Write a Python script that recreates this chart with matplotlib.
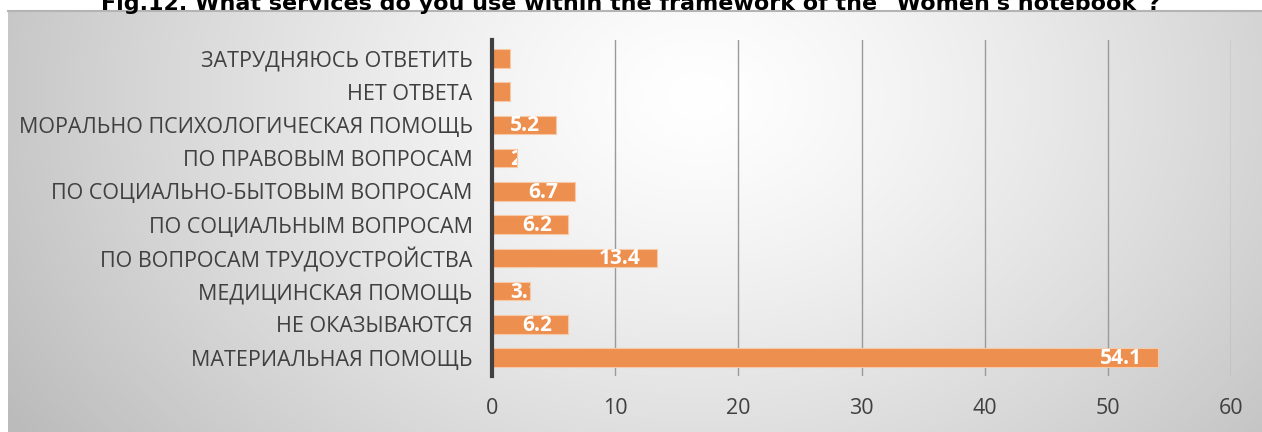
import numpy as np
import matplotlib.pyplot as plt
from matplotlib.transforms import Bbox, TransformedBbox

categories = [
    "МАТЕРИАЛЬНАЯ ПОМОЩЬ",
    "НЕ ОКАЗЫВАЮТСЯ",
    "МЕДИЦИНСКАЯ ПОМОЩЬ",
    "ПО ВОПРОСАМ ТРУДОУСТРОЙСТВА",
    "ПО СОЦИАЛЬНЫМ ВОПРОСАМ",
    "ПО СОЦИАЛЬНО-БЫТОВЫМ ВОПРОСАМ",
    "ПО ПРАВОВЫМ ВОПРОСАМ",
    "МОРАЛЬНО ПСИХОЛОГИЧЕСКАЯ ПОМОЩЬ",
    "НЕТ ОТВЕТА",
    "ЗАТРУДНЯЮСЬ ОТВЕТИТЬ",
]
values = [54.1, 6.2, 3.1, 13.4, 6.2, 6.7, 2, 5.2, 1.5, 1.5]
labels = ["54.1", "6.2", "3.1", "13.4", "6.2", "6.7", "2", "5.2", "1.5", "1.5"]
xticks = [0, 10, 20, 30, 40, 50, 60]

W, H = 1262, 432
fig = plt.figure(figsize=(W / 100, H / 100), dpi=100)

# radial grey background of the chart area
bg_top = 1 - 11 / H
ny, nx = 200, 600
yy, xx = np.mgrid[0:ny, 0:nx]
cx, cy = nx * 0.55, ny * 0.2
d = np.sqrt(((xx - cx) / nx) ** 2 + ((yy - cy) / ny * 0.45) ** 2)
d = d / d.max()
shade = 1.0 - 0.27 * d ** 1.3
bg = fig.add_axes([8 / W, 0, 1 - 8 / W, bg_top])
bg.imshow(np.dstack([shade] * 3), aspect="auto", extent=[0, 1, 0, 1], origin="upper")
bg.axis("off")
fig.add_artist(plt.Line2D([8 / W, 1], [bg_top, bg_top], color="#b4b4b4", linewidth=1.5))

fig.text(0.5, 1 - 9.5 / H, "Fig.12. What services do you use within the framework of the \"Women's notebook\"?",
         ha="center", va="baseline", fontsize=16, fontweight="bold", family="DejaVu Sans",
         color="black")

ax = fig.add_axes([492 / W, 1 - 376 / H, (1231 - 492) / W, (376 - 40) / H])
ax.patch.set_alpha(0)

y = np.arange(len(categories))
bars = ax.barh(y, values, height=0.56, color="#ED8F4F", edgecolor="#F6C9A8", linewidth=0.8, zorder=3)

ax.set_xlim(0, 60)
ax.set_ylim(-0.55, len(categories) - 0.45)
ax.set_xticks(xticks)
ax.set_xticklabels([str(t) for t in xticks])
ax.set_yticks(y)
ax.set_yticklabels(categories)
ax.tick_params(axis="x", length=0, pad=16, labelsize=15.5, labelcolor="#404040")
ax.tick_params(axis="y", length=0, pad=14, labelsize=15.5, labelcolor="#404040")
for lab in ax.get_yticklabels() + ax.get_xticklabels():
    lab.set_family("Open Sans")
ax.grid(axis="x", color="#9a9a9a", linewidth=1.0, zorder=1)
for s in ["top", "right", "bottom"]:
    ax.spines[s].set_visible(False)
ax.spines["left"].set_color("#404040")
ax.spines["left"].set_linewidth(3)
ax.spines["left"].set_zorder(4)

# data labels inside end, clipped to the bar
fig.canvas.draw()
renderer = fig.canvas.get_renderer()
px_per_unit = ax.transData.transform((1, 0))[0] - ax.transData.transform((0, 0))[0]
for bar, lab, v, yi in zip(bars, labels, values, y):
    t = ax.text(0, yi, lab, ha="left", va="center", color="white", fontsize=15,
                fontweight="bold", family="Open Sans", zorder=5)
    w = t.get_window_extent(renderer).width
    left_px = max(v * px_per_unit - 16 - w, 18)
    t.set_x(left_px / px_per_unit)
    t.set_y(yi - 0.03)
    t.set_clip_on(True)
    t.set_clip_box(TransformedBbox(Bbox.unit(), bar.get_transform()))
    t.set_clip_path(None)

fig.savefig("out.png", dpi=100)
